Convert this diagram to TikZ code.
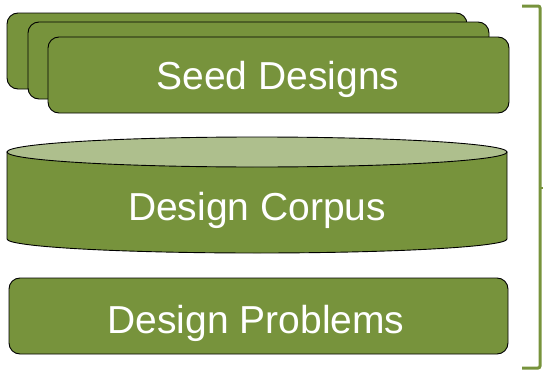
\documentclass[tikz,border=0pt]{standalone}
\usepackage{fontspec}
\setmainfont{Liberation Sans}
\definecolor{olive}{HTML}{77933C}
\definecolor{lightolive}{HTML}{AEBF8D}
\tikzset{
  card/.style={draw=black, line width=0.9pt, fill=olive, rounded corners=11pt},
  lbl/.style={text=white, font=\fontsize{39}{44}\selectfont, inner sep=0pt, anchor=base},
  brace/.style={draw=olive, line width=3pt, rounded corners=2pt}
}
\begin{document}
\begin{tikzpicture}[x=1pt,y=-1pt]
\useasboundingbox (0,0) rectangle (544,372);
% seed designs stack
\draw[card] (7,13) rectangle (467,89);
\draw[card] (28,22) rectangle (489,99);
\draw[card] (48,37) rectangle (509,113);
\node[lbl] (seed) at (278,89) {Seed Designs};
% cylinder
\draw[draw=black, line width=0.9pt, fill=olive] (7,152) -- (7,239) arc[start angle=180, end angle=0, x radius=250, y radius=14] -- (507,152) -- cycle;
\draw[draw=black, line width=0.9pt, fill=lightolive] (257,152) ellipse[x radius=250, y radius=15];
\node[lbl] (corpus) at (257,220) {Design Corpus};
% design problems
\draw[card] (9,278) rectangle (508,354);
\node[lbl] (problems) at (256,333) {Design Problems};
% bracket
\coordinate (bt) at (522,6);
\coordinate (bb) at (522,368);
\draw[brace] (bt) -- (540,6) -- (540,368) -- (bb);
\draw[draw=olive, line width=1.5pt] (540,188) -- (543,188);
\end{tikzpicture}
\end{document}
